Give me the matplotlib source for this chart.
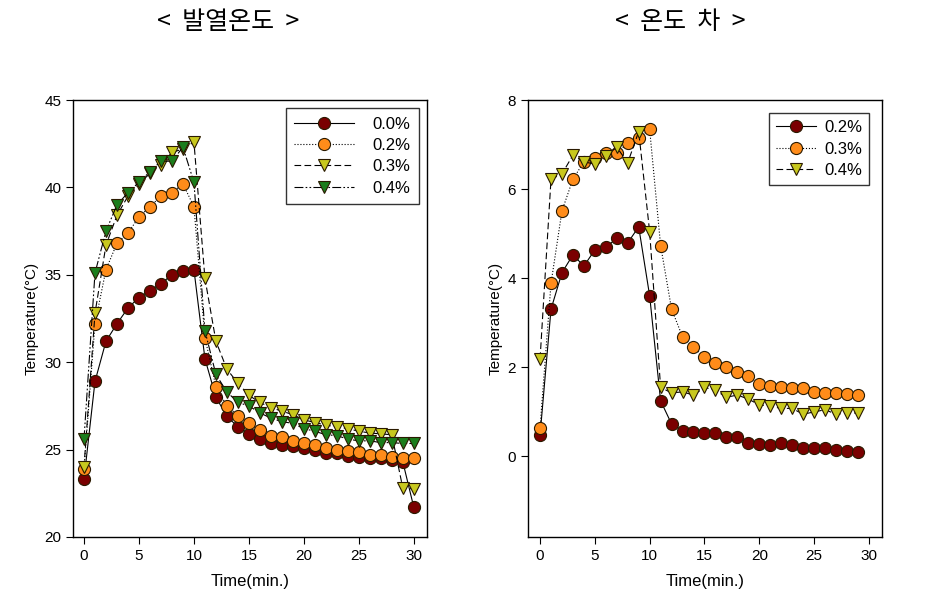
import numpy as np
import matplotlib.pyplot as plt

# ---- data ----
time_a = np.arange(0, 31)
heat_00 = [23.3, 28.9, 31.2, 32.2, 33.1, 33.7, 34.1, 34.5, 35.0, 35.2, 35.3,
           30.2, 28.0, 26.9, 26.3, 25.9, 25.6, 25.4, 25.25, 25.2, 25.1,
           25.0, 24.8, 24.8, 24.65, 24.6, 24.5, 24.5, 24.4, 24.3, 21.7]
heat_02 = [23.9, 32.2, 35.3, 36.8, 37.4, 38.3, 38.9, 39.5, 39.7, 40.2, 38.9,
           31.4, 28.6, 27.5, 26.95, 26.5, 26.1, 25.8, 25.7, 25.5, 25.4,
           25.25, 25.1, 25.0, 24.9, 24.85, 24.7, 24.7, 24.6, 24.5, 24.5]
heat_03 = [24.0, 32.8, 36.7, 38.4, 39.5, 40.2, 40.8, 41.3, 42.0, 42.2, 42.6,
           34.8, 31.2, 29.6, 28.8, 28.1, 27.7, 27.4, 27.2, 27.0, 26.7,
           26.55, 26.4, 26.3, 26.2, 26.05, 25.95, 25.9, 25.85, 22.8, 22.75]
heat_04 = [25.6, 35.1, 37.5, 39.0, 39.7, 40.3, 40.9, 41.5, 41.5, 42.3, 40.3,
           31.8, 29.3, 28.3, 27.7, 27.5, 27.1, 26.8, 26.6, 26.5, 26.2,
           26.05, 25.85, 25.8, 25.6, 25.5, 25.5, 25.4, 25.4, 25.35, 25.35]

time_b = np.arange(0, 30)
diff_02 = [0.47, 3.3, 4.12, 4.52, 4.27, 4.63, 4.69, 4.89, 4.79, 5.15, 3.6,
           1.24, 0.72, 0.57, 0.55, 0.51, 0.51, 0.42, 0.43, 0.30, 0.27,
           0.25, 0.30, 0.25, 0.17, 0.17, 0.17, 0.13, 0.12, 0.10]
diff_03 = [0.64, 3.88, 5.51, 6.22, 6.61, 6.69, 6.82, 6.80, 7.03, 7.15, 7.34,
           4.73, 3.30, 2.68, 2.44, 2.23, 2.08, 1.99, 1.89, 1.80, 1.61,
           1.57, 1.54, 1.52, 1.52, 1.44, 1.41, 1.41, 1.39, 1.37]
diff_04 = [2.18, 6.22, 6.34, 6.76, 6.61, 6.56, 6.74, 6.94, 6.59, 7.29, 5.04,
           1.54, 1.42, 1.44, 1.37, 1.54, 1.48, 1.32, 1.37, 1.28, 1.15,
           1.12, 1.07, 1.07, 0.94, 0.99, 1.04, 0.94, 0.96, 0.97]

labels_a = ['0.0%', '0.2%', '0.3%', '0.4%']
labels_b = ['0.2%', '0.3%', '0.4%']

# ---- styles ----
RED = '#7a0000'
ORANGE = '#ff8c1a'
YELLOW = '#c8c81e'
GREEN = '#1c7d1c'

style = {
    'solid': dict(ls='-', marker='o', mfc=RED),
    'dot': dict(ls=':', marker='o', mfc=ORANGE),
    'dash': dict(ls=(0, (6, 3)), marker='v', mfc=YELLOW),
    'dashdot': dict(ls=(0, (8, 2, 1.5, 2, 1.5, 2)), marker='v', mfc=GREEN),
}

plt.rcParams['font.family'] = ['Liberation Sans', 'DejaVu Sans']

fig = plt.figure(figsize=(9.27, 6.16), dpi=100)
ax1 = fig.add_axes([73/927, 1 - 537/616, 354/927, 437/616])
ax2 = fig.add_axes([528/927, 1 - 537/616, 354/927, 437/616])


def draw(ax, x, y, st, label):
    ax.plot(x, y, color='k', lw=0.8, mec='#2a1a00', mew=0.8,
            markersize=8.7, label=label, **st)


for y, st, lab in zip([heat_00, heat_02, heat_03, heat_04],
                      ['solid', 'dot', 'dash', 'dashdot'], labels_a):
    draw(ax1, time_a, y, style[st], lab)

for y, st, lab in zip([diff_02, diff_03, diff_04],
                      ['solid', 'dot', 'dash'], labels_b):
    draw(ax2, time_b, y, style[st], lab)

ax1.set_xlim(-1, 31.2)
ax1.set_ylim(20, 45)
ax1.set_yticks(np.arange(20, 46, 5))
ax2.set_xlim(-1.1, 31.2)
ax2.set_ylim(-1.82, 8)
ax2.set_yticks(np.arange(0, 9, 2))

for ax in (ax1, ax2):
    ax.set_xticks(np.arange(0, 31, 5))
    ax.tick_params(direction='out', length=5, width=0.8, labelsize=11,
                   top=False, right=False)
    ax.set_xlabel('Time(min.)', fontsize=12, labelpad=8)
    ax.set_ylabel('Temperature(\u00b0C)', fontsize=11, labelpad=4)
    for sp in ax.spines.values():
        sp.set_linewidth(1.0)

leg1 = ax1.legend(loc='upper right', handlelength=3.6, fontsize=12,
                  frameon=True, fancybox=False, edgecolor='k',
                  borderpad=0.5, labelspacing=0.38, handletextpad=1.1,
                  borderaxespad=0.5)
leg1.get_frame().set_linewidth(1.0)
leg2 = ax2.legend(loc='upper right', handlelength=2.4, fontsize=12,
                  frameon=True, fancybox=False, edgecolor='k',
                  borderpad=0.4, labelspacing=0.4, handletextpad=0.5,
                  borderaxespad=0.8)
leg2.get_frame().set_linewidth(1.0)

fig.text(228/927, 1 - 22/616, '<  발열온도  >', ha='center', va='center',
         fontsize=18, family=['Noto Sans CJK KR', 'DejaVu Sans'])
fig.text(680/927, 1 - 22/616, '<  온도  차  >', ha='center', va='center',
         fontsize=18, family=['Noto Sans CJK KR', 'DejaVu Sans'])

fig.savefig('out.png', dpi=100)
